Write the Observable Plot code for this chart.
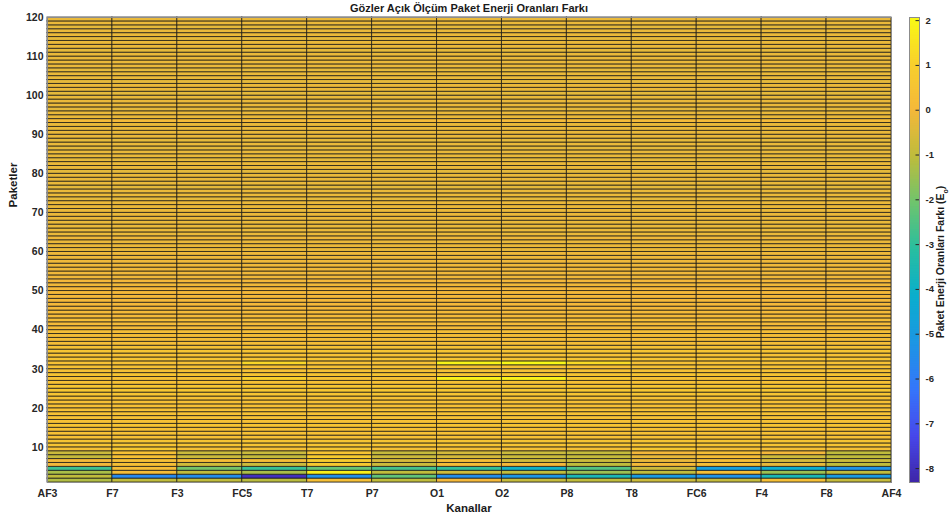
<!DOCTYPE html>
<html><head><meta charset="utf-8">
<script src="https://cdn.jsdelivr.net/npm/d3@7"></script>
<script src="https://cdn.jsdelivr.net/npm/@observablehq/plot@0.6"></script>
<style>
body{margin:0;background:#fff;font-family:"Liberation Sans",Arial,sans-serif;}
#wrap{position:relative;width:949px;height:520px;overflow:hidden;background:#fff}
#wrap svg{position:absolute;top:0}
.t{position:absolute;font-weight:bold;color:#1a1a1a;white-space:nowrap;line-height:1}
</style></head><body><div id="wrap"></div>
<script>
// ---- data ----
const channels = ["AF3","F7","F3","FC5","T7","P7","O1","O2","P8","T8","FC6","F4","F8","AF4"];
const packetTicks = [10,20,30,40,50,60,70,80,90,100,110,120];
const colorbarTicks = [-8,-7,-6,-5,-4,-3,-2,-1,0,1,2];
// rows 1..9 (packet band k -> k+1), one value per channel column (13 columns)
const row1 = [-1.2,-1.0,-1.0,-1.1, 0.3,-1.0, 0.0,-0.9,-1.0,-0.8,-0.9, 0.3,-0.9];
const row2 = [-1.0,-5.6,-5.5,-8.0,-5.4,-2.3,-5.5,-5.2,-3.6,-5.0,-5.3,-3.6,-5.0];
const row3 = [-1.3, 0.2,-1.0,-1.3, 1.8,-1.0,-0.7,-1.0,-1.5,-1.0, 0.3,-1.5,-1.0];
const row4 = [-2.8, 0.2,-2.0,-2.9,-2.2,-2.7,-3.0,-4.0,-2.5,-0.8,-4.8,-4.2,-5.3];
const row5 = [ 0.0, 0.3,-0.7,-0.8, 0.7,-0.8, 0.2, 0.0,-1.0, 0.1, 0.3,-0.3,-1.0];
const row6 = [ 0.1, 0.3, 0.2, 0.2, 0.8,-0.6, 0.3,-0.7,-0.8,-0.2, 0.3,-0.6,-0.8];
const row7 = [-0.9, 0.4,-0.8,-0.9, 0.8,-0.8,-0.6,-0.8,-0.9,-0.2, 0.3,-0.7,-1.0];
const row8 = [-0.8, 0.4,-0.8,-0.8, 0.5,-0.9,-0.6,-0.8,-0.9, 0.0, 0.3, 0.0,-1.0];
const row9 = [ 0.4, 0.7, 0.4, 0.4, 0.6, 0.4, 0.4, 0.4, 0.4, 0.7, 0.4, 0.4, 0.4];
const bottomRows = [row1,row2,row3,row4,row5,row6,row7,row8,row9];
// rows 10..119: level shared by all channels
const upperRows = [
 0.5,0.5,0.4,0.4,0.4,0.5,0.4,0.4,0.4,0.4,
 0.4,0.4,0.4,0.5,0.6,0.6,0.4,0.4,0.5,0.4,
 0.4,0.4,0.5,0.4,0.5,0.4,0.2,0.2,0.2,0.2,
 0.1,0.1,0.2,0.1,0.1,0.0,0.0,0.0,0.0,0.0,
 0.0,-0.1,0.0,-0.1,-0.1,-0.1,-0.1,-0.1,-0.1,-0.1,
 -0.2,-0.2,-0.2,-0.1,-0.2,-0.2,-0.2,-0.2,-0.2,-0.2,
 -0.2,-0.2,-0.2,-0.3,-0.2,-0.2,-0.3,-0.2,-0.2,-0.2,
 -0.3,-0.2,-0.2,-0.3,-0.2,-0.2,-0.3,-0.2,-0.3,-0.2,
 -0.2,-0.2,-0.2,0.1,-0.2,-0.2,-0.3,-0.2,-0.2,-0.2,
 -0.3,-0.2,-0.2,-0.3,-0.2,-0.2,-0.3,-0.2,-0.2,-0.2,
 -0.2,-0.3,-0.2,-0.2,-0.3,-0.2,-0.2,-0.3,-0.2,-0.2];
// single-cell exceptions: [row, channel, value]
const highlights = [
 [31,"FC5",1.2],[31,"O1",1.9],[31,"O2",2.0],[31,"P8",1.3],
 [27,"FC5",1.0],[27,"O1",1.8],[27,"O2",1.8],[27,"P8",0.7]
];
// parula-like colormap stops
const parulaStops = ["#3e26a8","#4748eb","#3576fa","#1c96e4","#0aaecd","#28bea0","#6ec46e","#bebc3c","#f4b83a","#f8d02c","#f9fb14"];

// ---- build ----
const parula = d3.piecewise(d3.interpolateRgb, parulaStops);
const hl = new Map(highlights.map(([r,c,v]) => [r+"|"+c, v]));
const cells = [];
for (let r = 1; r <= 119; r++) {
  for (let c = 0; c < 13; c++) {
    let v = r <= 9 ? bottomRows[r-1][c] : upperRows[r-10];
    const k = r + "|" + channels[c];
    if (hl.has(k)) v = hl.get(k);
    cells.push({x1: c+1, x2: c+2, y1: r, y2: r+1, v});
  }
}
const cdomain = [-8.31, 2.07];
const font = {fontFamily:"'Liberation Sans',Arial,sans-serif", fontSize:"10.5px", fontWeight:"bold", color:"#262626", background:"transparent", overflow:"visible"};

const main = Plot.plot({
  width: 949, height: 520,
  marginLeft: 47, marginRight: 58, marginTop: 17, marginBottom: 38,
  style: font,
  x: {domain:[1,14], ticks: d3.range(1,15), tickFormat: i => channels[i-1], label: null, tickSize: 0, tickPadding: 7},
  y: {domain:[1,120], ticks: packetTicks, label: null, tickSize: 0, tickPadding: 4, tickFormat: d => String(d)},
  color: {type:"linear", domain: cdomain, interpolate: parula},
  marks: [
    Plot.rect(cells, {x1:"x1", x2:"x2", y1:"y1", y2:"y2", fill:"v", stroke:"#141414", strokeWidth:1, strokeOpacity:0.72}),
    Plot.frame({stroke:"#8c8c8c"})
  ]
});
const step = 0.04;
const ramp = d3.range(cdomain[0], cdomain[1], step);
const bar = Plot.plot({
  width: 44, height: 520,
  marginLeft: 4, marginRight: 30, marginTop: 17, marginBottom: 38,
  style: {...font, fontSize:"9.5px"},
  x: {domain:[0,1], axis: null},
  y: {domain: cdomain, ticks: colorbarTicks, axis:"right", label:null, tickSize:0, tickPadding:6, tickFormat: d => String(d)},
  color: {type:"linear", domain: cdomain, interpolate: parula},
  marks: [
    Plot.rect(ramp, {x1:0, x2:1, y1: d=>d, y2: d=>Math.min(d+step*1.5, cdomain[1]), fill: d=>d+step/2}),
    Plot.ruleY(colorbarTicks, {x1:0.65, x2:1, stroke:"#262626", strokeWidth:1}),
    Plot.frame({stroke:"#8c8c8c"})
  ]
});
const wrap = document.getElementById("wrap");
main.style.left = "0px";
bar.style.left = "905px";
wrap.appendChild(main);
wrap.appendChild(bar);
function label(html, x, y, size, rot) {
  const d = document.createElement("div");
  d.className = "t";
  d.innerHTML = html;
  d.style.fontSize = size + "px";
  d.style.left = x + "px"; d.style.top = y + "px";
  d.style.transform = "translate(-50%,-50%)" + (rot ? " rotate(-90deg)" : "");
  wrap.appendChild(d);
}
label("Gözler Açık Ölçüm Paket Enerji Oranları Farkı", 469, 8, 11, false);
label("Kanallar", 469, 509, 11.5, false);
label("Paketler", 14, 185, 11.5, true);
label("Paket Enerji Oranları Farkı (E<sub style='font-size:7px'>o</sub>)", 942, 262, 10.5, true);
</script></body></html>
